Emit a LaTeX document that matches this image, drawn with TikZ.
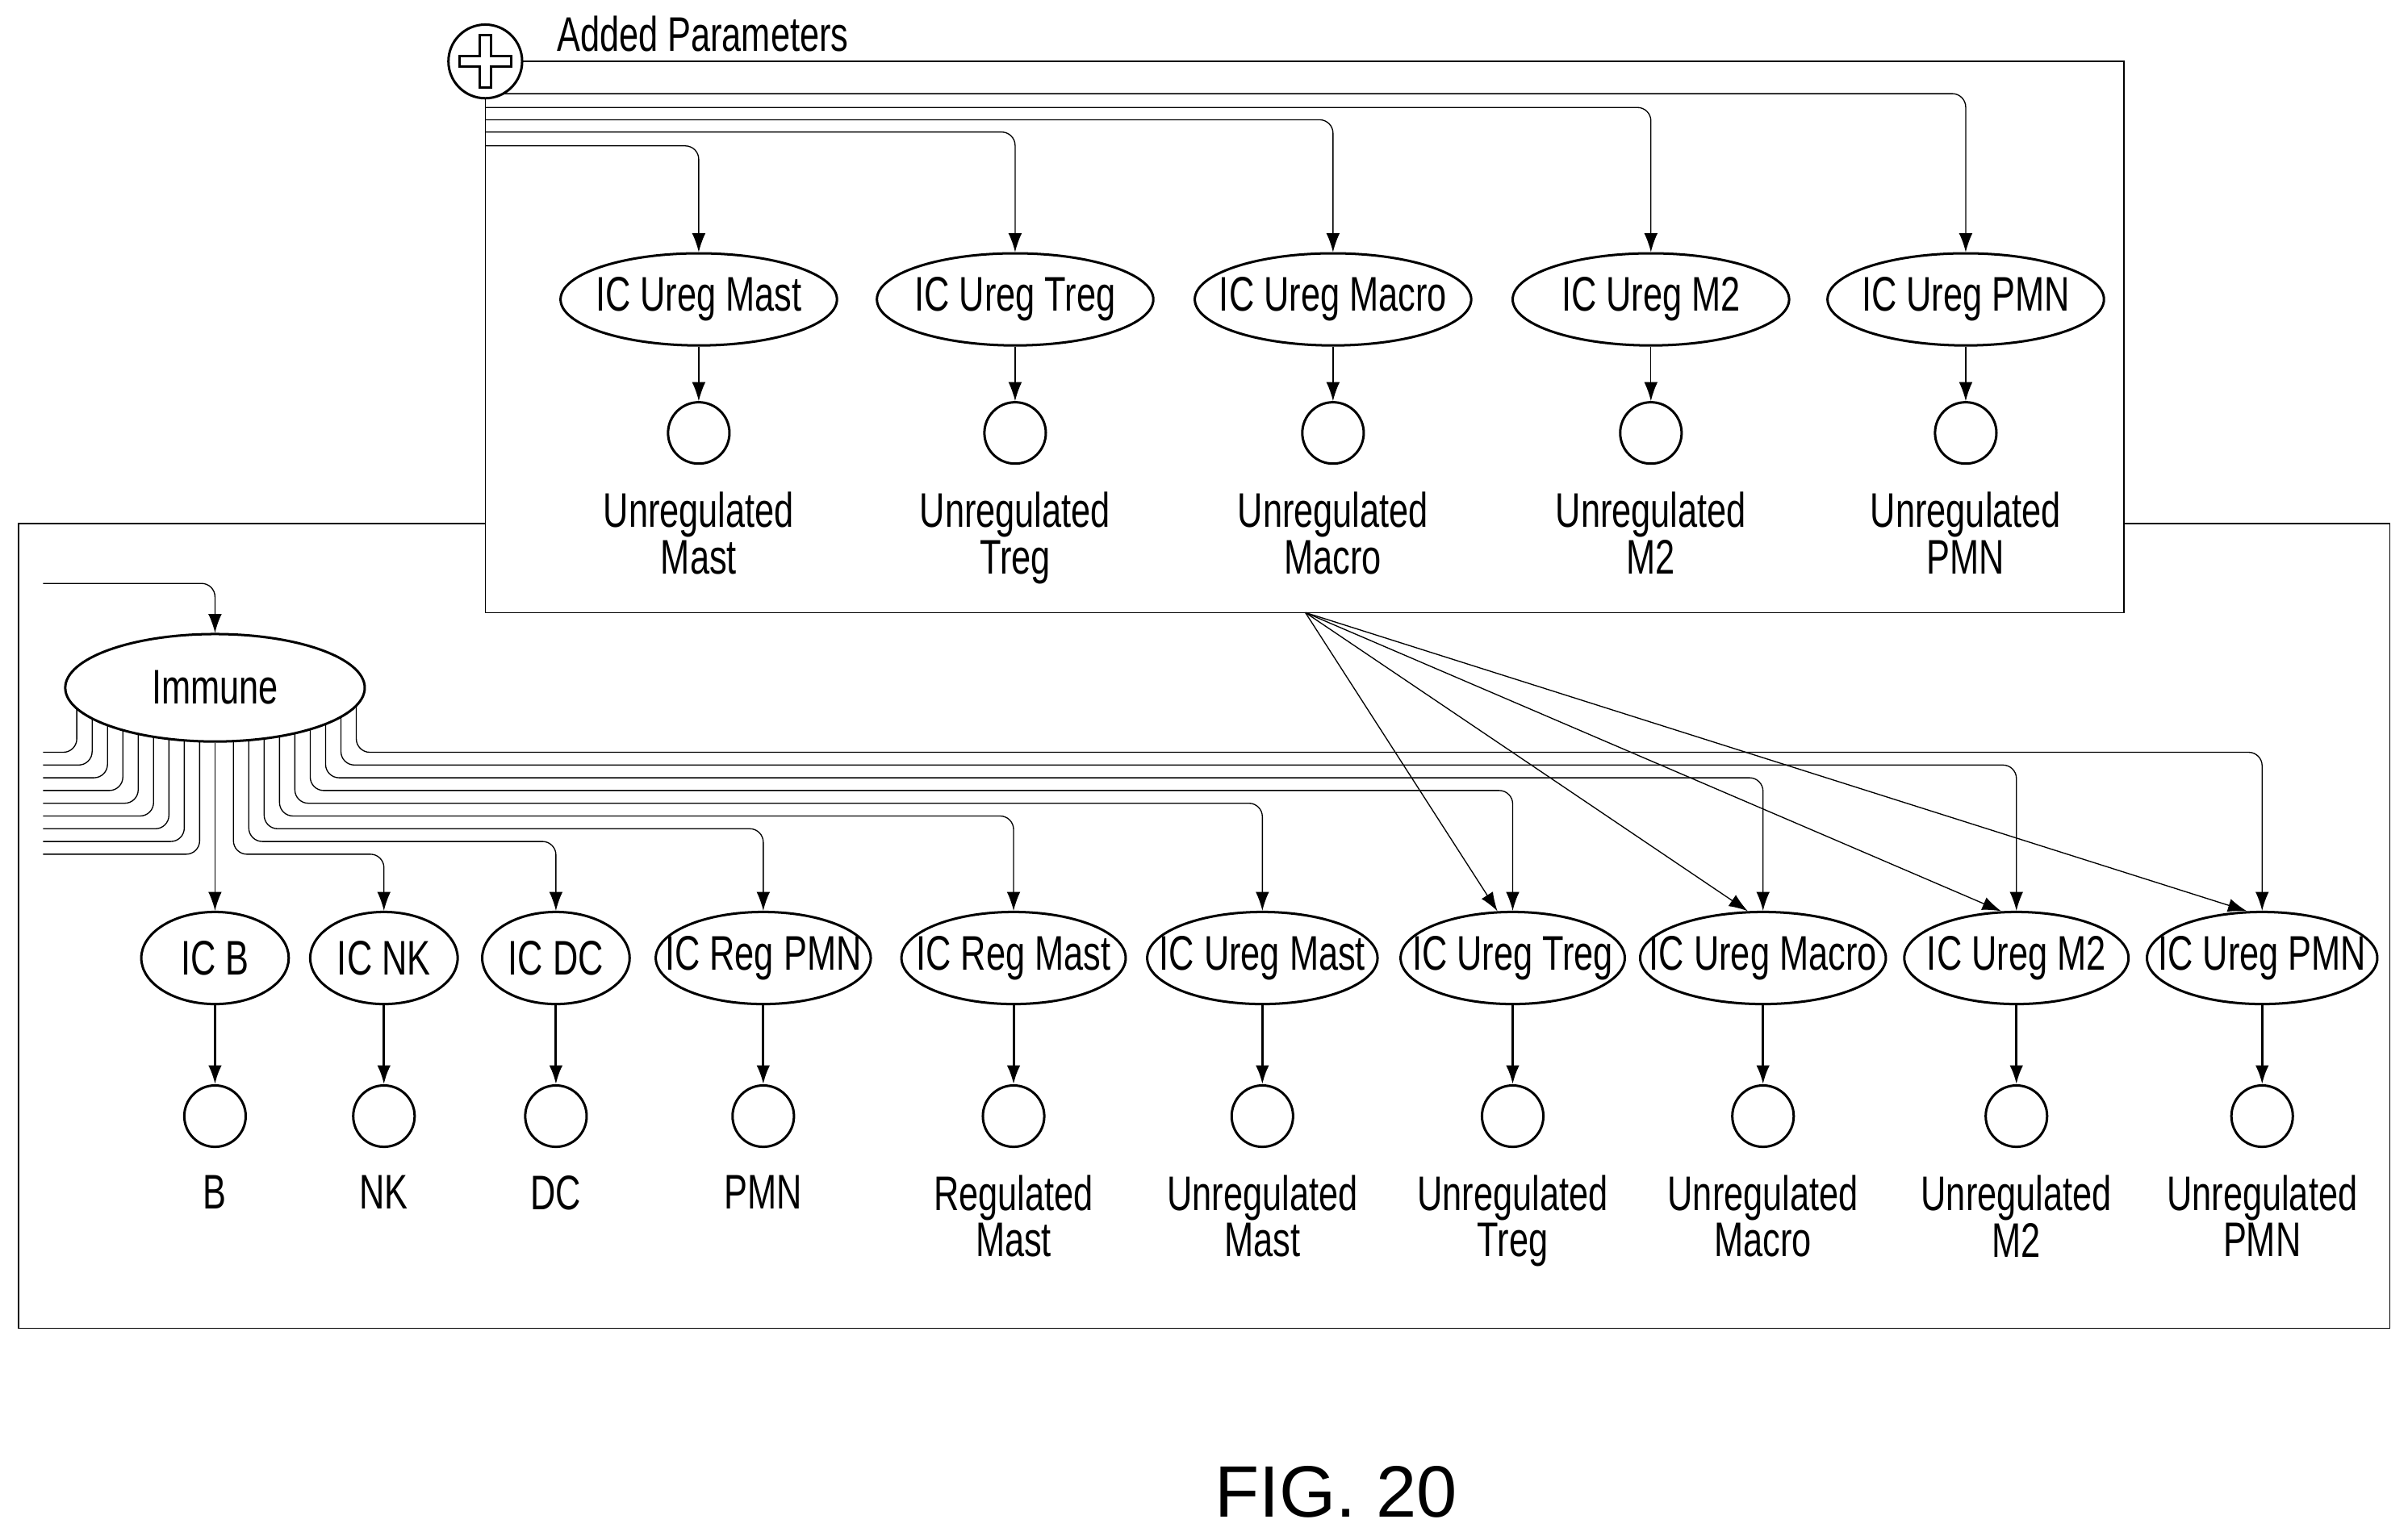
\documentclass[tikz,border=0pt]{standalone}
\usepackage{fontspec}
\setmainfont{Liberation Sans}[FakeStretch=0.72]
\newfontfamily\figfont{Liberation Sans}
\usetikzlibrary{shapes.geometric,arrows.meta,backgrounds,calc}

\begin{document}
\begin{tikzpicture}[x=0.2mm,y=-0.2mm,line width=0.9pt,
    font=\fontsize{18}{16}\selectfont,
    arr/.style={-{Latex[length=7pt,width=5pt]},rounded corners=5},
    ic/.style={draw,ellipse,fill=white,inner xsep=-10pt,inner ysep=0pt,minimum height=12mm},
    pool/.style={draw,circle,minimum size=8mm,inner sep=0pt},
    lab/.style={anchor=north,align=center}
  ]
  \useasboundingbox (0,0) rectangle (1568,1000);

  % 追加パラメータ
  \node[draw,circle,fill=white,minimum size=9.6mm,inner sep=0pt] (plus) at (316,40) {};
  \draw (plus.center) ++(-3.5,-17) -- ++(7,0) -- ++(0,13.5) -- ++(13.5,0) -- ++(0,7)
    -- ++(-13.5,0) -- ++(0,13.5) -- ++(-7,0) -- ++(0,-13.5) -- ++(-13.5,0) -- ++(0,-7)
    -- ++(13.5,0) -- cycle;
  \node[anchor=west] (addlab) at (356,22) {Added Parameters};

  \foreach \x/\n/\y [count=\i] in {455/Mast/95,661/Treg/86,868/Macro/78,1075/M2/70,1280/PMN/61}{
    \node[ic,minimum width=36mm] (t\i) at (\x,195) {IC Ureg \n};
    \node[pool] (tc\i) at (\x,282) {};
    \node[lab] (tl\i) at (\x,314) {Unregulated\\\n};
  }

  % Immune と下段
  \node[ic,minimum width=39mm,minimum height=14mm] (imm) at (140,448) {Immune};
  \coordinate (inL) at (28,380);
  \foreach \x/\t/\w/\l [count=\i] in {140/IC B/96/B,250/IC NK/96/NK,362/IC DC/96/DC,
      497/IC Reg PMN/140/PMN,660/IC Reg Mast/146/{Regulated\\Mast},
      822/IC Ureg Mast/150/{Unregulated\\Mast},985/IC Ureg Treg/146/{Unregulated\\Treg},
      1148/IC Ureg Macro/160/{Unregulated\\Macro},1313/IC Ureg M2/146/{Unregulated\\M2},
      1473/IC Ureg PMN/150/{Unregulated\\PMN}}{
    \node[ic,minimum width=\w*0.2mm] (b\i) at (\x,624) {\t};
    \node[pool] (bc\i) at (\x,727) {};
    \node[lab] (bl\i) at (\x,759) {\l};
    \draw[arr] (b\i) -- (bc\i);
  }
  \node[font=\figfont\fontsize{27}{30}\selectfont] (fig) at (870,972) {FIG. 20};

  \begin{scope}[on background layer]
    % 枠
    \draw (12,341) rectangle (1556,865);
    \draw[fill=white] (plus.center) rectangle (1383,399);
    \foreach \y [count=\i] in {95,86,78,70,61}{
      \draw[arr] (plus.center |- 0,\y) -| (t\i.north);
      \draw[arr] (t\i) -- (tc\i);
    }
    % 入力
    \draw[arr] (inL) -| (imm.north);
    % 左へ出る線
    \foreach \k in {0,...,8}{
      \draw[rounded corners=5] (50+10*\k,450) |- (28,490+8.3*\k);
    }
    % 右へ出る線
    \foreach \k/\j in {0/10,1/9,2/8,3/7,4/6,5/5,6/4,7/3,8/2}{
      \draw[arr] (232-10*\k,450) |- (b\j.north |- 0,490+8.3*\k) -- (b\j.north);
    }
    \draw[arr] (imm.south) -- (b1.north);
    % 斜めの矢印
    \coordinate (dsrc) at (850,399);
    \foreach \j in {7,8,9,10}{
      \draw[arr] (dsrc) -- (b\j.108);
    }
  \end{scope}
\end{tikzpicture}
\end{document}
